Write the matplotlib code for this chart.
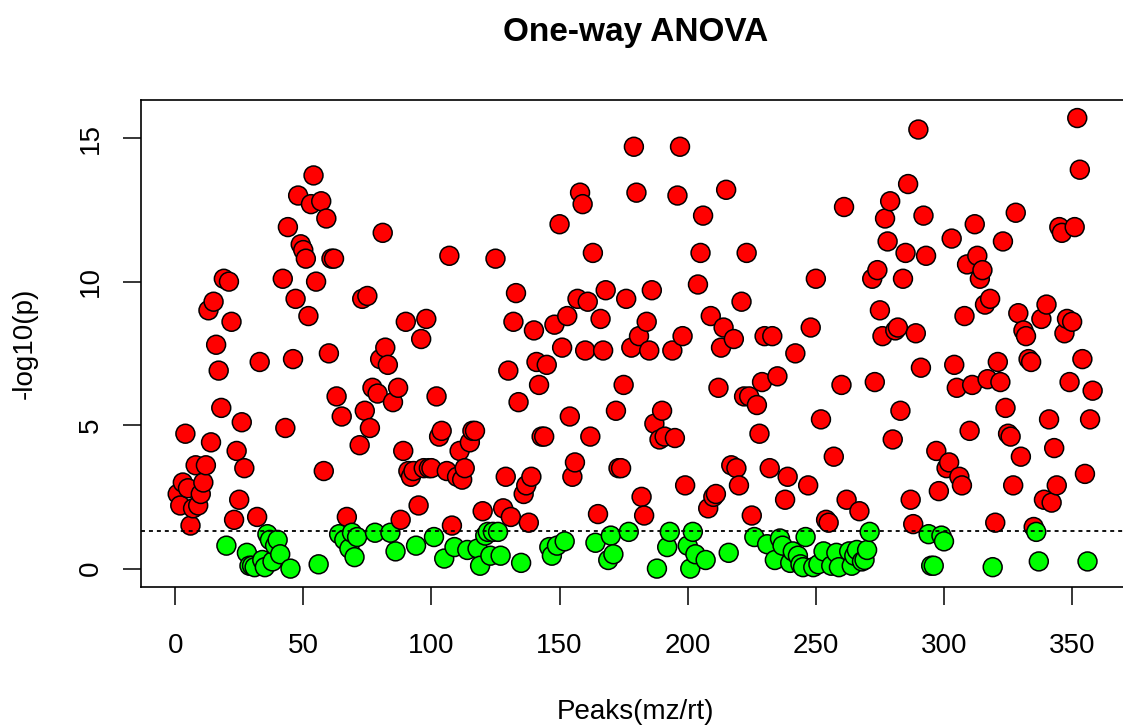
import numpy as np
import matplotlib
matplotlib.use('Agg')
import matplotlib.pyplot as plt

plt.rcParams['font.family'] = ['Liberation Sans', 'DejaVu Sans']

# -log10(p) for each peak, in peak order
NEG_LOG_P = [
    2.6, 2.2, 3.0, 4.7, 2.8, 1.5, 2.1, 3.6, 2.2, 2.6, 3.0, 3.6,
    9.0, 4.4, 9.3, 7.8, 6.9, 5.6, 10.1, 0.8, 10.0, 8.6, 1.7, 4.1,
    2.4, 5.1, 3.5, 0.55, 0.1, 0.1, 0.05, 1.8, 7.2, 0.3, 0.05, 1.2,
    1.0, 0.25, 0.8, 1.0, 0.5, 10.1, 4.9, 11.9, 0.0, 7.3, 9.4, 13.0,
    11.3, 11.1, 10.8, 8.8, 12.7, 13.7, 10.0, 0.15, 12.8, 3.4, 12.2, 7.5,
    10.8, 10.8, 6.0, 1.2, 5.3, 1.0, 1.8, 0.7, 1.25, 0.4, 1.1, 4.3,
    9.4, 5.5, 9.5, 4.9, 6.3, 1.25, 6.1, 7.3, 11.7, 7.7, 7.1, 1.25,
    5.8, 0.6, 6.3, 1.7, 4.1, 8.6, 3.4, 3.2, 3.4, 0.8, 2.2, 8.0,
    3.5, 8.7, 3.5, 3.5, 1.1, 6.0, 4.6, 4.8, 0.35, 3.4, 10.9, 1.5,
    0.75, 3.2, 4.1, 3.1, 3.5, 0.65, 4.4, 4.8, 4.8, 0.7, 0.1, 2.0,
    1.15, 1.28, 0.45, 1.28, 10.8, 1.28, 0.45, 2.1, 3.2, 6.9, 1.8, 8.6,
    9.6, 5.8, 0.2, 2.6, 2.9, 1.6, 3.2, 8.3, 7.2, 6.4, 4.6, 4.6,
    7.1, 0.75, 0.45, 8.5, 0.8, 12.0, 7.7, 0.95, 8.8, 5.3, 3.2, 3.7,
    9.4, 13.1, 12.7, 7.6, 9.3, 4.6, 11.0, 0.9, 1.9, 8.7, 7.6, 9.7,
    0.3, 1.15, 0.5, 5.5, 3.5, 3.5, 6.4, 9.4, 1.28, 7.7, 14.7, 13.1,
    8.1, 2.5, 1.85, 8.6, 7.6, 9.7, 5.05, 0.0, 4.5, 5.5, 4.6, 0.75,
    1.28, 7.6, 4.55, 13.0, 14.7, 8.1, 2.9, 0.8, 0.0, 1.28, 0.5, 9.9,
    11.0, 12.3, 0.3, 2.1, 8.8, 2.5, 2.6, 6.3, 7.7, 8.4, 13.2, 0.55,
    3.6, 8.0, 3.5, 2.9, 9.3, 6.0, 11.0, 6.0, 1.85, 1.1, 5.7, 4.7,
    6.5, 8.1, 0.85, 3.5, 8.1, 0.3, 6.7, 1.05, 0.8, 2.4, 3.2, 0.2,
    0.6, 7.5, 0.45, 0.15, 0.05, 1.1, 2.9, 8.4, 0.05, 10.1, 0.15, 5.2,
    0.6, 1.7, 1.6, 0.1, 3.9, 0.55, 0.05, 6.4, 12.6, 2.4, 0.6, 0.1,
    0.45, 0.65, 2.0, 0.25, 0.3, 0.65, 1.28, 10.1, 6.5, 10.4, 9.0, 8.1,
    12.2, 11.4, 12.8, 4.5, 8.3, 8.4, 5.5, 10.1, 11.0, 13.4, 2.4, 1.55,
    8.2, 15.3, 7.0, 12.3, 10.9, 1.2, 0.1, 0.1, 4.1, 2.7, 1.15, 0.95,
    3.5, 3.7, 11.5, 7.1, 6.3, 3.2, 2.9, 8.8, 10.6, 4.8, 6.4, 12.0,
    10.9, 10.1, 10.4, 9.2, 6.6, 9.4, 0.05, 1.6, 7.2, 6.5, 11.4, 5.6,
    4.7, 4.6, 2.9, 12.4, 8.9, 3.9, 8.3, 8.1, 7.3, 7.2, 1.45, 1.28,
    0.25, 8.7, 2.4, 9.2, 5.2, 2.3, 4.2, 2.9, 11.9, 11.7, 8.2, 8.7,
    6.5, 8.6, 11.9, 15.7, 13.9, 7.3, 3.3, 0.25, 5.2, 6.2,
]
THRESHOLD = -np.log10(0.05)   # p = 0.05

y = np.array(NEG_LOG_P)
x = np.arange(1, len(y) + 1)
colors = np.where(y > THRESHOLD, '#FF0000', '#00FF00')

fig = plt.figure(figsize=(11.23, 7.27), dpi=100)
ax = fig.add_axes([0.1256, 0.193, 0.88, 0.6695])

ax.scatter(x, y, s=185, c=colors, edgecolors='black', linewidths=1.1, zorder=3)
ax.axhline(THRESHOLD, color='black', linestyle=(0, (2.2, 2.2)), linewidth=1.3, zorder=4)

ax.set_xlim(-13.3, 372.3)
ax.set_ylim(-0.63, 16.33)
ax.set_xticks([0, 50, 100, 150, 200, 250, 300, 350])
ax.set_yticks([0, 5, 10, 15])
for sp in ax.spines.values():
    sp.set_linewidth(1.2)
ax.tick_params(axis='both', direction='out', length=13, width=1.1, labelsize=20)
ax.tick_params(axis='x', pad=20)
ax.tick_params(axis='y', pad=14)
for lbl in ax.get_yticklabels():
    lbl.set_rotation(90)
    lbl.set_va('center')

fig.text(0.566, 0.955, 'One-way ANOVA', ha='center', va='center',
         fontsize=24, fontweight='bold')
fig.text(0.566, 0.021, 'Peaks(mz/rt)', ha='center', va='center', fontsize=20)
fig.text(0.022, 0.528, '-log10(p)', ha='center', va='center', fontsize=20, rotation=90)

fig.savefig('out.png', dpi=100)
